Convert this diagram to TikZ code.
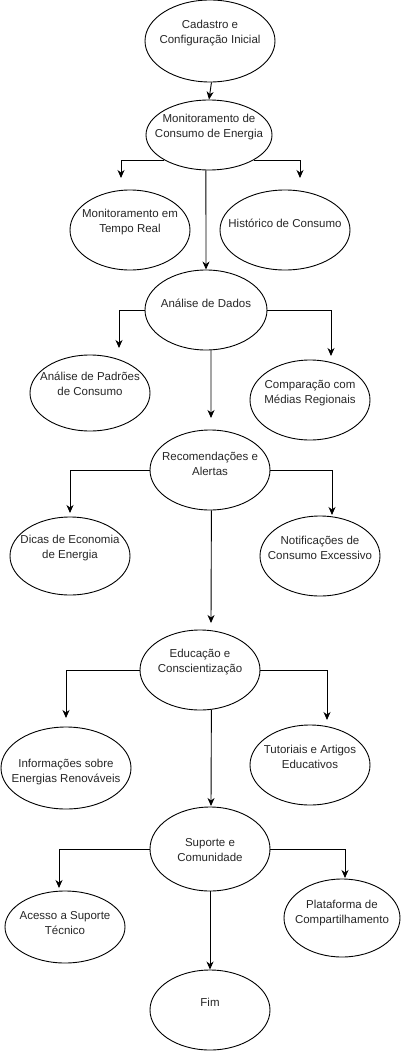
\documentclass[tikz,border=0pt]{standalone}
\usepackage{fontspec}
\setmainfont{Liberation Sans}
\usetikzlibrary{shapes.geometric,arrows.meta}
\tikzset{
  ell/.style={draw, ellipse, line width=0.9pt, inner sep=0pt},
  txt/.style={align=center, font=\fontsize{11.5}{14.5}\selectfont, inner sep=0pt, text=black!85},
  conn/.style={line width=0.9pt, -{Stealth[length=8pt,width=7pt,inset=2.5pt]}}
}
\newcommand{\ellnode}[7]{% name, x, y, rx, ry, texty, text
  \node[ell, minimum width=#4*2pt, minimum height=#5*2pt] (#1) at (#2,#3) {};
  \node[txt] (#1-t) at (#2,#6) {#7};
}
\begin{document}
\begin{tikzpicture}[x=1pt,y=-1pt]
\useasboundingbox (0,0) rectangle (405,1051);
\ellnode{cad}{210}{41}{65}{41}{33}{Cadastro e\\Configuração Inicial}
\ellnode{mon}{209}{135}{63}{35}{127}{Monitoramento de\\Consumo de Energia}
\ellnode{mtr}{130}{230}{60}{40}{222}{Monitoramento em\\Tempo Real}
\ellnode{his}{285}{230}{65}{40}{223}{Histórico de Consumo}
\ellnode{ana}{206}{310}{61}{40}{303}{Análise de Dados}
\ellnode{pad}{90}{393}{60}{38}{384}{Análise de Padrões\\de Consumo}
\ellnode{cmp}{310}{400}{60}{40}{393}{Comparação com\\Médias Regionais}
\ellnode{rec}{210}{470}{60}{40}{464}{Recomendações e\\Alertas}
\ellnode{dic}{70}{556}{60}{39}{548}{Dicas de Economia\\de Energia}
\ellnode{not}{320}{556}{60}{40}{548}{Notificações de\\Consumo Excessivo}
\ellnode{edu}{200}{670}{60}{40}{662}{Educação e\\Conscientização}
\ellnode{inf}{66}{768}{65}{41}{772}{Informações sobre\\Energias Renováveis}
\ellnode{tut}{310}{765}{60}{40}{757}{Tutoriais e Artigos\\Educativos}
\ellnode{sup}{210}{849}{60}{42}{850}{Suporte e\\Comunidade}
\ellnode{ace}{65}{927}{60}{36}{923}{Acesso a Suporte\\Técnico}
\ellnode{pla}{342}{918}{58}{39}{913}{Plataforma de\\Compartilhamento}
\ellnode{fim}{210}{1010}{60}{40}{1002}{Fim}
% free ends
\coordinate (m1) at (121,178);
\coordinate (m2) at (300,178);
\coordinate (a1) at (119,348);
\coordinate (a2) at (331,356);
\coordinate (a3) at (211,418);
\coordinate (r1) at (70,513);
\coordinate (r2) at (332,515);
\coordinate (r3) at (211,623);
\coordinate (e1) at (66,718);
\coordinate (e2) at (327,720);
\coordinate (e3) at (211,806);
\coordinate (s1) at (59,888);
\coordinate (s2) at (345,878);
% connectors
\draw[conn] (cad.-88) -- (mon.north);
\draw[conn] (mon.209.6) -| (m1);
\draw[conn] (mon.-29.6) -| (m2);
\draw[conn] (mon.-95) -- (ana.north);
\draw[conn] (ana.west) -| (a1);
\draw[conn] (ana.east) -| (a2);
\draw[conn] (ana.-83) -- (a3);
\draw[conn] (rec.west) -| (r1);
\draw[conn] (rec.east) -| (r2);
\draw[conn] (rec.-88) -- (r3);
\draw[conn] (edu.west) -| (e1);
\draw[conn] (edu.east) -| (e2);
\draw[conn] (edu.-74.4) -- (e3);
\draw[conn] (sup.west) -| (s1);
\draw[conn] (sup.east) -| (s2);
\draw[conn] (sup.south) -- (fim.north);
\end{tikzpicture}
\end{document}
